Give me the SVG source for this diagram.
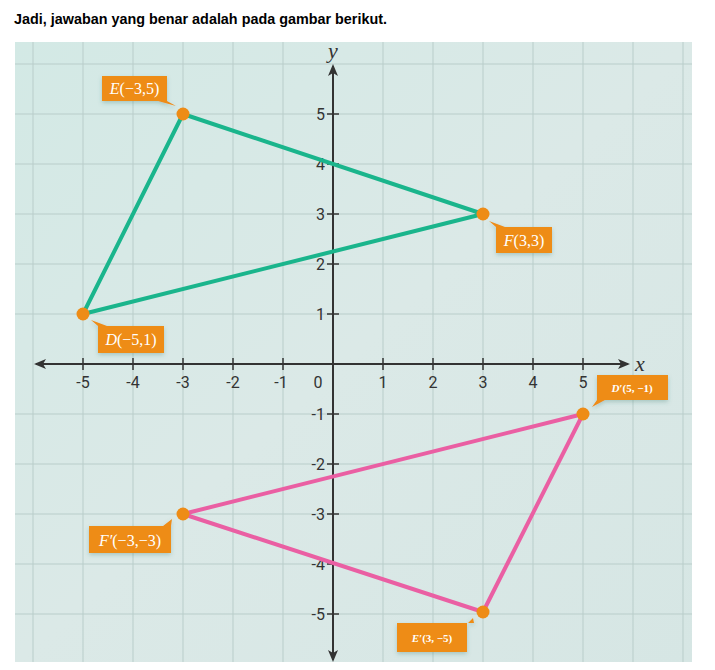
<svg xmlns="http://www.w3.org/2000/svg" width="715" height="670" viewBox="0 0 715 670">
<defs>
<linearGradient id="bg" x1="0" y1="0" x2="1" y2="1">
<stop offset="0" stop-color="#d3e9e5"/>
<stop offset="0.5" stop-color="#dbe9e7"/>
<stop offset="1" stop-color="#d6e6e4"/>
</linearGradient>
<marker id="ah" viewBox="0 0 12 10" refX="10" refY="5" markerWidth="12" markerHeight="10" markerUnits="userSpaceOnUse" orient="auto">
<path d="M0,0 L12,5 L0,10 L3,5 Z" fill="#333"/>
</marker>
<filter id="sh" x="-20%" y="-20%" width="140%" height="160%">
<feDropShadow dx="0" dy="2" stdDeviation="2" flood-color="#3a7a70" flood-opacity="0.3"/>
</filter>
</defs>
<style>
.title{font-family:"Liberation Sans",Arial,sans-serif;font-weight:bold;font-size:15.5px;fill:#000}
.grid line{stroke:#b9cdca;stroke-width:1}
.axis{stroke:#333;stroke-width:2;fill:none}
.tick{stroke:#333;stroke-width:1.5}
.num{font-family:"Roboto","Liberation Sans",sans-serif;font-size:16px;fill:#333}
.lab{font-family:"Liberation Serif","Times New Roman",serif;font-size:16px;fill:#fff}
.labb{font-family:"Liberation Serif","Times New Roman",serif;font-size:11px;font-weight:bold;fill:#fff}
.box{fill:#ee8c16;filter:url(#sh)}
.pt{fill:#ee8c16}
.g{stroke:#1ab58c;stroke-width:4;fill:none;stroke-linejoin:round}
.p{stroke:#ea5fa3;stroke-width:4;fill:none;stroke-linejoin:round}
.axl{font-family:"Liberation Serif","Times New Roman",serif;font-style:italic;font-size:22px;fill:#333}
</style>
<rect width="715" height="670" fill="#fff"/>
<text class="title" x="14" y="24" textLength="373" lengthAdjust="spacingAndGlyphs">Jadi, jawaban yang benar adalah pada gambar berikut.</text>
<rect x="15" y="42" width="677" height="620" fill="url(#bg)"/>
<g class="grid">
<line x1="33" y1="42" x2="33" y2="662"/><line x1="83" y1="42" x2="83" y2="662"/><line x1="133" y1="42" x2="133" y2="662"/><line x1="183" y1="42" x2="183" y2="662"/><line x1="233" y1="42" x2="233" y2="662"/><line x1="283" y1="42" x2="283" y2="662"/><line x1="383" y1="42" x2="383" y2="662"/><line x1="433" y1="42" x2="433" y2="662"/><line x1="483" y1="42" x2="483" y2="662"/><line x1="533" y1="42" x2="533" y2="662"/><line x1="583" y1="42" x2="583" y2="662"/><line x1="633" y1="42" x2="633" y2="662"/><line x1="683" y1="42" x2="683" y2="662"/>
<line x1="15" y1="64" x2="692" y2="64"/><line x1="15" y1="114" x2="692" y2="114"/><line x1="15" y1="164" x2="692" y2="164"/><line x1="15" y1="214" x2="692" y2="214"/><line x1="15" y1="264" x2="692" y2="264"/><line x1="15" y1="314" x2="692" y2="314"/><line x1="15" y1="414" x2="692" y2="414"/><line x1="15" y1="464" x2="692" y2="464"/><line x1="15" y1="514" x2="692" y2="514"/><line x1="15" y1="564" x2="692" y2="564"/><line x1="15" y1="614" x2="692" y2="614"/>
</g>
<g id="axes">
<line class="axis" x1="333" y1="364" x2="628" y2="364" marker-end="url(#ah)"/>
<line class="axis" x1="333" y1="364" x2="36" y2="364" marker-end="url(#ah)"/>
<line class="axis" x1="333" y1="364" x2="333" y2="66" marker-end="url(#ah)"/>
<line class="axis" x1="333" y1="364" x2="333" y2="660" marker-end="url(#ah)"/>
<g class="tick">
<line x1="83" y1="358" x2="83" y2="370"/><line x1="133" y1="358" x2="133" y2="370"/><line x1="183" y1="358" x2="183" y2="370"/><line x1="233" y1="358" x2="233" y2="370"/><line x1="283" y1="358" x2="283" y2="370"/><line x1="383" y1="358" x2="383" y2="370"/><line x1="433" y1="358" x2="433" y2="370"/><line x1="483" y1="358" x2="483" y2="370"/><line x1="533" y1="358" x2="533" y2="370"/><line x1="583" y1="358" x2="583" y2="370"/>
<line x1="327" y1="114" x2="339" y2="114"/><line x1="327" y1="164" x2="339" y2="164"/><line x1="327" y1="214" x2="339" y2="214"/><line x1="327" y1="264" x2="339" y2="264"/><line x1="327" y1="314" x2="339" y2="314"/><line x1="327" y1="414" x2="339" y2="414"/><line x1="327" y1="464" x2="339" y2="464"/><line x1="327" y1="514" x2="339" y2="514"/><line x1="327" y1="564" x2="339" y2="564"/><line x1="327" y1="614" x2="339" y2="614"/>
</g>
<g class="num" text-anchor="middle">
<text x="83" y="388">-5</text><text x="133" y="388">-4</text><text x="183" y="388">-3</text><text x="233" y="388">-2</text><text x="281" y="388">-1</text><text x="318" y="388">0</text><text x="383" y="388">1</text><text x="433" y="388">2</text><text x="483" y="388">3</text><text x="533" y="388">4</text><text x="583" y="388">5</text>
</g>
<g class="num" text-anchor="end">
<text x="325" y="120">5</text><text x="325" y="170">4</text><text x="325" y="220">3</text><text x="325" y="270">2</text><text x="325" y="320">1</text><text x="325" y="420">-1</text><text x="325" y="470">-2</text><text x="325" y="520">-3</text><text x="325" y="570">-4</text><text x="325" y="620">-5</text>
</g>
<text class="axl" x="333" y="58" text-anchor="middle">y</text>
<text class="axl" x="640" y="371" text-anchor="middle">x</text>
</g>
<g id="connectors">
<polygon class="g" points="183,114 483,214 83,314"/>
<polygon class="p" points="583,414 483,612 183,514"/>
</g>
<g id="E">
<path class="box" d="M102,76 H167 V101 L176,106 L158,101 H102 Z"/>
<circle class="pt" cx="183" cy="114" r="6.5"/>
<text class="lab" x="134.5" y="94" text-anchor="middle"><tspan font-style="italic">E</tspan>(−3,5)</text>
</g>
<g id="F">
<path class="box" d="M496,227 L489,221 L505,227 H552 V253 H496 Z"/>
<circle class="pt" cx="483" cy="214" r="6.5"/>
<text class="lab" x="524" y="246" text-anchor="middle"><tspan font-style="italic">F</tspan>(3,3)</text>
</g>
<g id="D">
<path class="box" d="M98,326 L91,320 L107,326 H164 V353 H98 Z"/>
<circle class="pt" cx="83" cy="314" r="6.5"/>
<text class="lab" x="131" y="345" text-anchor="middle"><tspan font-style="italic">D</tspan>(−5,1)</text>
</g>
<g id="Dp">
<path class="box" d="M597,375 H668 V400 H605 L592,407 L597,400 Z"/>
<circle class="pt" cx="583" cy="414" r="6.5"/>
<text class="labb" x="632" y="392" text-anchor="middle"><tspan font-style="italic">D′</tspan>(5, −1)</text>
</g>
<g id="Ep">
<path class="box" d="M397,623 H468 L473,618 L474,623 H467 V652 H397 Z"/>
<circle class="pt" cx="483" cy="612" r="6.5"/>
<text class="labb" x="432" y="642" text-anchor="middle"><tspan font-style="italic">E′</tspan>(3, −5)</text>
</g>
<g id="Fp">
<path class="box" d="M89,526 H163 L172,519 L171,526 V553 H89 Z"/>
<circle class="pt" cx="183" cy="514" r="6.5"/>
<text class="lab" x="130" y="546" text-anchor="middle"><tspan font-style="italic">F′</tspan>(−3,−3)</text>
</g>
</svg>
